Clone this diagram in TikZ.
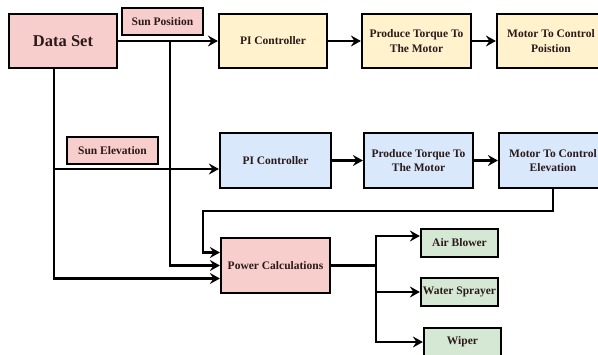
\documentclass[tikz,border=0pt]{standalone}
\usepackage{fontspec}
\setmainfont{Liberation Serif}
\usetikzlibrary{positioning, arrows.meta, calc}
\definecolor{pinkfill}{HTML}{F8CECC}
\definecolor{yellowfill}{HTML}{FFF2CC}
\definecolor{bluefill}{HTML}{DAE8FC}
\definecolor{greenfill}{HTML}{D5E8D4}
\definecolor{textdark}{HTML}{2A1A1A}
\tikzset{
  block/.style     ={rectangle, draw=black, line width=2.2pt, inner sep=0pt,
    text centered, align=center, text=textdark,
    font=\fontsize{11.5}{14.5}\selectfont\bfseries},
  datablock/.style ={block, fill=pinkfill, minimum width=108pt, minimum height=54pt,
    font=\fontsize{16.5}{18}\selectfont\bfseries},
  inputtag/.style  ={block, fill=pinkfill, minimum height=27pt},
  posblock/.style  ={block, fill=yellowfill, minimum width=108pt, minimum height=54pt},
  elevblock/.style ={block, fill=bluefill, minimum width=109pt, minimum height=55pt},
  powerblock/.style={block, fill=pinkfill, minimum width=109pt, minimum height=55pt},
  loadblock/.style ={block, fill=greenfill, minimum width=77pt, minimum height=28pt},
  link/.style      ={line width=2.2pt},
  arrow/.style     ={link, -{Stealth[length=10pt, width=11pt, inset=3.5pt]}},
}

\begin{document}
\begin{tikzpicture}[x=1pt, y=-1pt]

  \useasboundingbox (0,0) rectangle (598,354);

  % inputs
  \node[datablock]                   (data)   at (63,41)    {Data Set};
  \node[inputtag, minimum width=81pt](sunpos) at (162.5,21.5) {Sun Position};
  \node[inputtag, minimum width=91pt](sunel)  at (112.5,150.5){Sun Elevation};

  % position loop
  \node[posblock]                    (pi1)  at (273,41)   {PI Controller};
  \node[posblock, minimum width=109pt](tq1) at (416.5,41) {Produce Torque To\\The Motor};
  \node[posblock]                    (mot1) at (551,41)   {Motor To Control\\Poistion};

  % elevation loop
  \node[elevblock, minimum width=111pt](pi2) at (275.5,160.5) {PI Controller};
  \node[elevblock]                   (tq2)  at (418.5,160.5) {Produce Torque To\\The Motor};
  \node[elevblock, minimum width=108pt](mot2) at (553,160.5) {Motor To Control\\Elevation};

  % power and loads
  \node[powerblock]                  (pwr)   at (275.5,265.5) {Power Calculations};
  \node[loadblock]                   (air)   at (459.5,243)   {Air Blower};
  \node[loadblock]                   (water) at (459.5,292)   {Water Sprayer};
  \node[loadblock]                   (wiper) at (462.5,342)   {Wiper};

  % junctions
  \coordinate (jpos) at (170,41);
  \coordinate (jdat) at (54,68);
  \coordinate (jel)  at (54,169);
  \coordinate (jfb)  at (203,211);
  \coordinate (jout) at (376,265.5);

  \draw[arrow] (data.east) -- (pi1.west);
  \draw[arrow] (pi1) -- (tq1);
  \draw[arrow] (tq1) -- (mot1);
  \draw[arrow] (jel) -- (jel -| pi2.west);
  \draw[arrow] (pi2) -- (tq2);
  \draw[arrow] (tq2) -- (mot2);

  % lines into the power block
  \draw[arrow] (jpos) |- (pwr.west);
  \draw[arrow] (jdat) |- ($(pwr.west)+(0,13)$);
  \draw[arrow] (mot2.south) |- (jfb) |- ($(pwr.west)+(0,-13)$);

  % loads
  \draw[link]  (pwr.east) -- (jout);
  \draw[arrow] (jout) |- ($(air.west)+(0,-7)$);
  \draw[arrow] (jout) |- (water.west);
  \draw[arrow] (jout) |- (wiper.west);

\end{tikzpicture}
\end{document}
